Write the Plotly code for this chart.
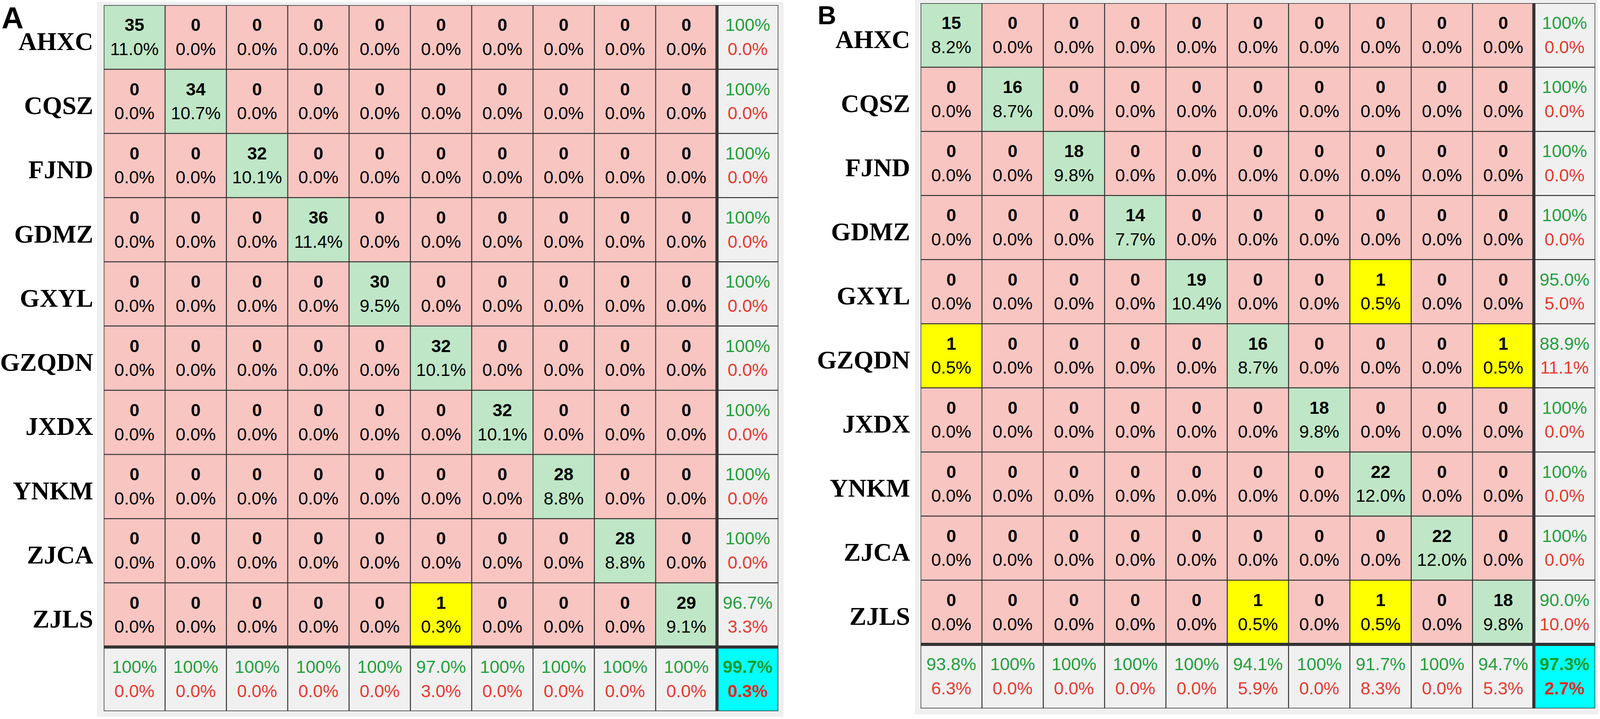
import plotly.graph_objects as go

W, H = 4317, 1840

classes = ["AHXC", "CQSZ", "FJND", "GDMZ", "GXYL", "GZQDN", "JXDX", "YNKM", "ZJCA", "ZJLS"]

# Panel A confusion counts (rows = classes as labelled, columns in same order)
counts_A = [
    [35, 0, 0, 0, 0, 0, 0, 0, 0, 0],
    [0, 34, 0, 0, 0, 0, 0, 0, 0, 0],
    [0, 0, 32, 0, 0, 0, 0, 0, 0, 0],
    [0, 0, 0, 36, 0, 0, 0, 0, 0, 0],
    [0, 0, 0, 0, 30, 0, 0, 0, 0, 0],
    [0, 0, 0, 0, 0, 32, 0, 0, 0, 0],
    [0, 0, 0, 0, 0, 0, 32, 0, 0, 0],
    [0, 0, 0, 0, 0, 0, 0, 28, 0, 0],
    [0, 0, 0, 0, 0, 0, 0, 0, 28, 0],
    [0, 0, 0, 0, 0, 1, 0, 0, 0, 29],
]
row_acc_A = [100, 100, 100, 100, 100, 100, 100, 100, 100, 96.7]
row_err_A = [0, 0, 0, 0, 0, 0, 0, 0, 0, 3.3]
col_acc_A = [100, 100, 100, 100, 100, 97.0, 100, 100, 100, 100]
col_err_A = [0, 0, 0, 0, 0, 3.0, 0, 0, 0, 0]
total_A = [99.7, 0.3]

# Panel B confusion counts
counts_B = [
    [15, 0, 0, 0, 0, 0, 0, 0, 0, 0],
    [0, 16, 0, 0, 0, 0, 0, 0, 0, 0],
    [0, 0, 18, 0, 0, 0, 0, 0, 0, 0],
    [0, 0, 0, 14, 0, 0, 0, 0, 0, 0],
    [0, 0, 0, 0, 19, 0, 0, 1, 0, 0],
    [1, 0, 0, 0, 0, 16, 0, 0, 0, 1],
    [0, 0, 0, 0, 0, 0, 18, 0, 0, 0],
    [0, 0, 0, 0, 0, 0, 0, 22, 0, 0],
    [0, 0, 0, 0, 0, 0, 0, 0, 22, 0],
    [0, 0, 0, 0, 0, 1, 0, 1, 0, 18],
]
row_acc_B = [100, 100, 100, 100, 95.0, 88.9, 100, 100, 100, 90.0]
row_err_B = [0, 0, 0, 0, 5.0, 11.1, 0, 0, 0, 10.0]
col_acc_B = [93.8, 100, 100, 100, 100, 94.1, 100, 91.7, 100, 94.7]
col_err_B = [6.3, 0, 0, 0, 0, 5.9, 0, 8.3, 0, 5.3]
total_B = [97.3, 2.7]

PINK = "#f8c5c1"
GREEN = "#bfe6c6"
YELLOW = "#ffff00"
GRAY = "#f0f0f0"
CYAN = "#00ffff"
TXT_GREEN = "#22a03c"
TXT_RED = "#e8392e"
LINE = "#333333"


def fmt(v):
    return "100%" if v == 100 else f"{v:.1f}%"


fig = go.Figure()

panels = [
    dict(counts=counts_A, ra=row_acc_A, re=row_err_A, ca=col_acc_A, ce=col_err_A,
         tot=total_A, xd=(280, 2100), yd=(13, 1820), frame=(263, 6, 2113, 1833),
         letter="A", lpos=(2, 0), lsize=78, ax=""),
    dict(counts=counts_B, ra=row_acc_B, re=row_err_B, ca=col_acc_B, ce=col_err_B,
         tot=total_B, xd=(2484, 4304), yd=(8, 1813), frame=(2470, 1, 4310, 1827),
         letter="B", lpos=(2204, 0), lsize=66, ax="2"),
]

n = len(classes)
shapes = []
annotations = []

for p in panels:
    c = p["counts"]
    total = sum(sum(r) for r in c)
    xa = "x" + p["ax"]
    ya = "y" + p["ax"]

    # cell categories: 0 pink, 1 green, 2 yellow, 3 gray, 4 cyan
    z = []
    for i in range(n + 1):
        row = []
        for j in range(n + 1):
            if i == n and j == n:
                row.append(4)
            elif i == n or j == n:
                row.append(3)
            elif i == j:
                row.append(1)
            elif c[i][j] > 0:
                row.append(2)
            else:
                row.append(0)
        z.append(row)

    fig.add_trace(go.Heatmap(
        z=z, x=list(range(n + 1)), y=list(range(n + 1)),
        colorscale=[[0, PINK], [0.25, GREEN], [0.5, YELLOW], [0.75, GRAY], [1, CYAN]],
        zmin=0, zmax=4, showscale=False, hoverinfo="skip",
        xaxis=xa, yaxis=ya,
    ))

    cx, cy, ct, px, py, pt = [], [], [], [], [], []
    for i in range(n):
        for j in range(n):
            cx.append(j); cy.append(i - 0.165); ct.append(str(c[i][j]))
            px.append(j); py.append(i + 0.21); pt.append(f"{c[i][j] / total * 100:.1f}%")
    fig.add_trace(go.Scatter(x=cx, y=cy, text=ct, mode="text", hoverinfo="skip",
                             textfont=dict(family="Liberation Sans", size=45, color="#000000", weight="bold"),
                             xaxis=xa, yaxis=ya, showlegend=False))
    fig.add_trace(go.Scatter(x=px, y=py, text=pt, mode="text", hoverinfo="skip",
                             textfont=dict(family="Liberation Sans", size=45, color="#000000"),
                             xaxis=xa, yaxis=ya, showlegend=False))

    gx, gy, gt, rx, ry, rt = [], [], [], [], [], []
    for i in range(n):
        gx.append(n); gy.append(i - 0.165); gt.append(fmt(p["ra"][i]))
        rx.append(n); ry.append(i + 0.21); rt.append(fmt(p["re"][i]))
    for j in range(n):
        gx.append(j); gy.append(n - 0.165); gt.append(fmt(p["ca"][j]))
        rx.append(j); ry.append(n + 0.21); rt.append(fmt(p["ce"][j]))
    fig.add_trace(go.Scatter(x=gx, y=gy, text=gt, mode="text", hoverinfo="skip",
                             textfont=dict(family="Liberation Sans", size=45, color=TXT_GREEN),
                             xaxis=xa, yaxis=ya, showlegend=False))
    fig.add_trace(go.Scatter(x=rx, y=ry, text=rt, mode="text", hoverinfo="skip",
                             textfont=dict(family="Liberation Sans", size=45, color=TXT_RED),
                             xaxis=xa, yaxis=ya, showlegend=False))
    fig.add_trace(go.Scatter(x=[n], y=[n - 0.165], text=[fmt(p["tot"][0])], mode="text", hoverinfo="skip",
                             textfont=dict(family="Liberation Sans", size=45, color="#1a9a2c", weight="bold"),
                             xaxis=xa, yaxis=ya, showlegend=False))
    fig.add_trace(go.Scatter(x=[n], y=[n + 0.21], text=[fmt(p["tot"][1])], mode="text", hoverinfo="skip",
                             textfont=dict(family="Liberation Sans", size=45, color="#e02a20", weight="bold"),
                             xaxis=xa, yaxis=ya, showlegend=False))

    # light grey frame behind the matrix
    fx0, fy0, fx1, fy1 = p["frame"]
    shapes.append(dict(type="rect", xref="paper", yref="paper", layer="below",
                       x0=fx0 / W, x1=fx1 / W, y0=1 - fy1 / H, y1=1 - fy0 / H,
                       fillcolor=GRAY, line=dict(color="#e4e4e4", width=1)))
    # grid lines
    for k in range(1, n + 1):
        wdt = 8 if k == n else 2.5
        shapes.append(dict(type="line", xref=xa, yref=ya, layer="above",
                           x0=k - 0.5, x1=k - 0.5, y0=-0.5, y1=n + 0.5,
                           line=dict(color=LINE, width=wdt)))
        shapes.append(dict(type="line", xref=xa, yref=ya, layer="above",
                           x0=-0.5, x1=n + 0.5, y0=k - 0.5, y1=k - 0.5,
                           line=dict(color=LINE, width=wdt)))
    shapes.append(dict(type="rect", xref=xa, yref=ya, layer="above",
                       x0=-0.5, x1=n + 0.5, y0=-0.5, y1=n + 0.5,
                       line=dict(color=LINE, width=3)))

    annotations.append(dict(text=p["letter"], xref="paper", yref="paper",
                            x=p["lpos"][0] / W, y=1 - p["lpos"][1] / H,
                            xanchor="left", yanchor="top", showarrow=False,
                            font=dict(family="Liberation Sans", size=p["lsize"], color="#000000", weight="bold")))

    xd0, xd1 = p["xd"]
    yd0, yd1 = p["yd"]
    fig.update_layout(**{
        "xaxis" + p["ax"]: dict(domain=[xd0 / W, xd1 / W], range=[-0.5, n + 0.5],
                                showticklabels=False, showgrid=False, zeroline=False,
                                ticks="", anchor=ya, fixedrange=True),
        "yaxis" + p["ax"]: dict(domain=[1 - yd1 / H, 1 - yd0 / H], range=[n + 0.5, -0.5],
                                tickvals=[i + 0.06 for i in range(n)], ticktext=classes,
                                tickfont=dict(family="Liberation Serif", size=65, color="#000000", weight="bold"),
                                showgrid=False, zeroline=False, ticks="", ticklabelstandoff=26,
                                anchor=xa, fixedrange=True),
    })

fig.update_layout(
    autosize=True,
    margin=dict(l=0, r=0, t=0, b=0, pad=0),
    paper_bgcolor="#ffffff",
    plot_bgcolor="#ffffff",
    showlegend=False,
    shapes=shapes,
    annotations=annotations,
)

post = (
    "document.documentElement.style.margin='0';"
    "document.body.style.margin='0';"
    "document.body.style.overflow='hidden';"
    "var gd=document.getElementById('{plot_id}');"
    "gd.style.width='100vw';gd.style.height='100vh';"
    "Plotly.Plots.resize(gd);"
)

fig.write_html("out.html", default_width="100vw", default_height="100vh",
               config={"responsive": True, "displayModeBar": False},
               post_script=post)
